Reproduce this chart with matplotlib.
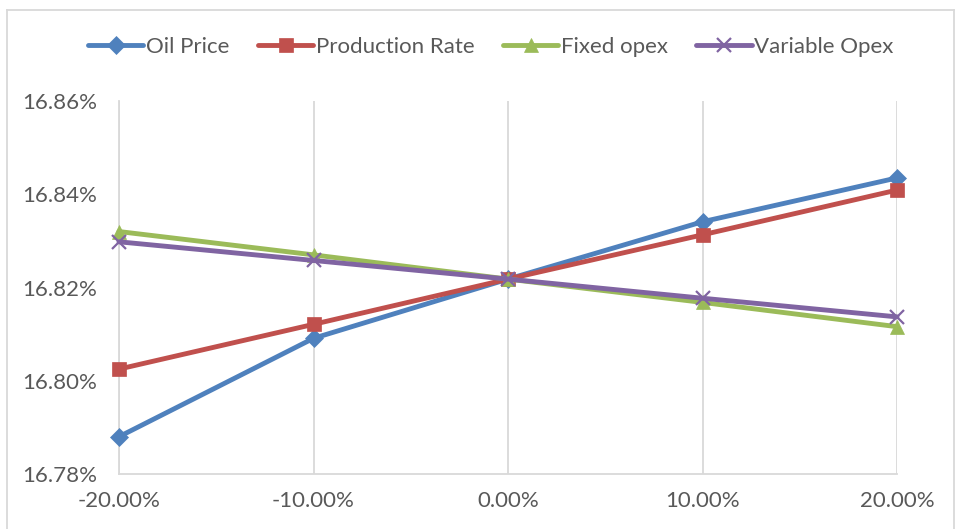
import matplotlib
matplotlib.use("Agg")
import matplotlib.pyplot as plt
from matplotlib.ticker import FuncFormatter, MultipleLocator
from matplotlib.lines import Line2D

plt.rcParams['font.family'] = ['Lato', 'DejaVu Sans']

# sensitivity steps (fraction change) and resulting value (%)
steps = [-0.20, -0.10, 0.00, 0.10, 0.20]
series_names = ["Oil Price", "Production Rate", "Fixed opex", "Variable Opex"]
oil_price = [16.7880, 16.8091, 16.8218, 16.8341, 16.8435]
production_rate = [16.8025, 16.8121, 16.8218, 16.8313, 16.8409]
fixed_opex = [16.8320, 16.8270, 16.8218, 16.8168, 16.8116]
variable_opex = [16.8298, 16.8258, 16.8218, 16.8177, 16.8137]

colors = ["#4F81BD", "#C0504D", "#9BBB59", "#8064A2"]
markers = ["D", "s", "^", "x"]
msizes = [9.5, 10.5, 10.5, 10.5]
text_color = "#595959"
grid_color = "#D9D9D9"

fig = plt.figure(figsize=(9.55, 5.29), dpi=100)
ax = fig.add_axes([119 / 955, 1 - 474 / 529, (897 - 119) / 955, (474 - 101) / 529])

all_series = [oil_price, production_rate, fixed_opex, variable_opex]
handles = []
for name, vals, c, m, ms in zip(series_names, all_series, colors, markers, msizes):
    ln, = ax.plot(steps, vals, color=c, lw=3.5, marker=m, ms=ms,
                  mew=1.6 if m == "x" else 0.5, mec=c, mfc=c,
                  solid_capstyle="round", label=name, zorder=3, clip_on=False)
    handles.append(ln)

ax.set_xlim(-0.20, 0.20)
ax.set_ylim(16.78, 16.86)
ax.xaxis.set_major_locator(MultipleLocator(0.10))
ax.yaxis.set_major_locator(MultipleLocator(0.02))
ax.xaxis.set_major_formatter(FuncFormatter(lambda v, p: f"{v * 100:.2f}%"))
ax.yaxis.set_major_formatter(FuncFormatter(lambda v, p: f"{v:.2f}%"))

ax.grid(axis="x", color=grid_color, lw=1.3, zorder=0)
ax.grid(axis="y", visible=False)
for side in ["top", "right"]:
    ax.spines[side].set_visible(False)
for side in ["left", "bottom"]:
    ax.spines[side].set_color(grid_color)
    ax.spines[side].set_linewidth(1.3)

ax.tick_params(axis="both", length=0, labelcolor=text_color, labelsize=16)
ax.tick_params(axis="y", pad=16)
ax.tick_params(axis="x", pad=12)

leg = fig.legend(handles=handles, loc="center", bbox_to_anchor=(0.514, 1 - 47 / 529),
                 ncol=4, frameon=False, fontsize=16, handlelength=2.5,
                 handletextpad=0.12, columnspacing=1.27)
for t in leg.get_texts():
    t.set_color(text_color)

# chart area border
bx0, bx1, by1 = 7 / 955, 954 / 955, 1 - 10 / 529
for xs, ys in [([bx0, bx0], [-0.05, by1]), ([bx0, bx1], [by1, by1]), ([bx1, bx1], [by1, -0.05])]:
    fig.add_artist(Line2D(xs, ys, color=grid_color, lw=1.3, transform=fig.transFigure))

fig.savefig("out.png", dpi=100)
